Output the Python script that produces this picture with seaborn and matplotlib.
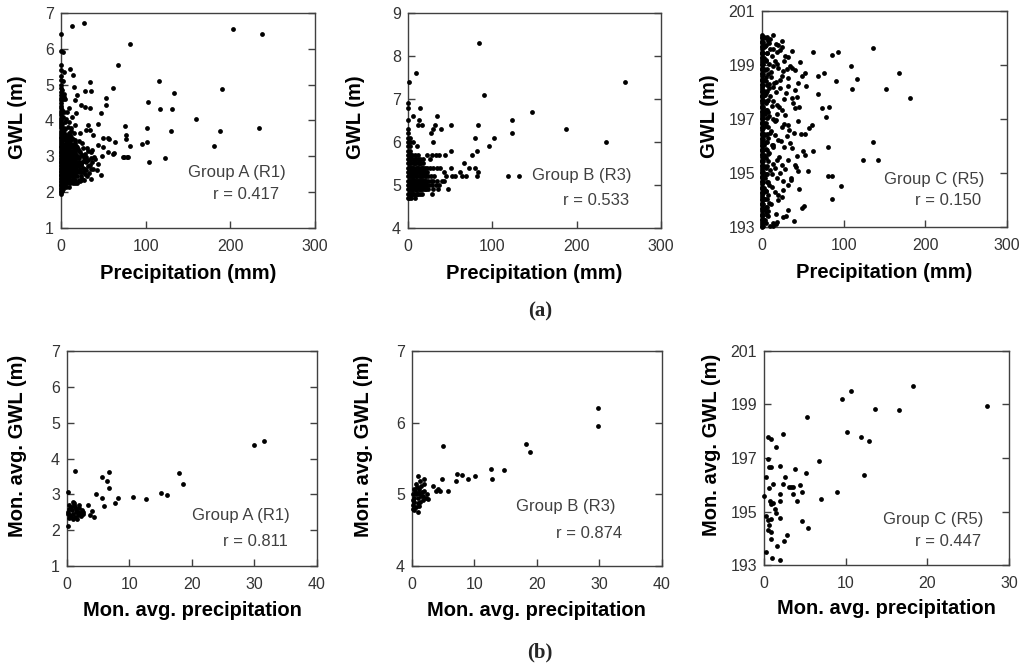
import matplotlib
matplotlib.use("Agg")
import numpy as np
import pandas as pd
import matplotlib.pyplot as plt
import seaborn as sns

# ---------------- Group A (R1), daily ----------------
# dry days (precipitation = 0)
a_dry_gwl = [1.95, 2.0, 2.04, 2.08, 2.12, 2.16, 2.2, 2.24, 2.28, 2.32,
             2.36, 2.4, 2.44, 2.48, 2.52, 2.56, 2.6, 2.64, 2.68, 2.72,
             2.76, 2.8, 2.84, 2.88, 2.92, 2.96, 3.0, 3.04, 3.08, 3.12,
             3.16, 3.2, 3.25, 3.3, 3.35, 3.4, 3.45, 3.5, 3.55, 3.6,
             3.66, 3.72, 3.78, 3.84, 3.9, 3.96, 4.02, 4.08, 4.14, 4.2,
             4.27, 4.34, 4.41, 4.48, 4.56, 4.64, 4.72, 4.8, 4.9, 5.0,
             5.12, 5.25, 5.4, 5.55, 5.93, 6.42]
a_wet_precip = [1.5, 2.5, 1.2, 3.0, 2.0, 1.0, 3.2, 1.8, 2.6, 1.3,
                3.4, 2.2, 1.1, 2.8, 1.6, 3.1, 2.0, 1.4, 2.7, 1.2,
                2.3, 1.5, 2.0, 3.0, 2.6,
                5, 8, 12, 16, 22, 6, 4, 7, 10, 14,
                19, 25, 35.4, 23.2, 5, 9, 13, 17, 21, 28,
                46.9, 33, 4, 7, 11, 15, 19, 24, 30, 38.2,
                42.9, 6, 9, 12, 16, 20, 26, 32, 4, 8,
                11, 14, 18, 23, 29, 43.3, 36, 5, 9, 13,
                17, 21, 27, 32.3, 40, 6, 10, 14, 19, 24,
                30, 39.4, 48, 4, 8, 12, 16, 22, 28, 35,
                6, 10, 15, 20, 26, 36.2, 30.3, 5, 9, 13,
                18, 24.4, 43.3, 50, 7, 11, 16, 21, 4, 9,
                14, 50, 55.9, 6, 10.6, 22.4, 37.4, 12, 29.1, 34.3,
                5, 16.5, 32.3, 44.1, 8, 13.4, 17.7, 46.9, 6, 23.6,
                28.3, 34.3, 3.9, 10, 16.5, 18.9, 53, 53.1, 15.7, 28.3,
                35, 33.9, 14.6, 11, 13.4, 26.8,
                81.5, 203.5, 237.4, 67.3, 115.7, 61.8, 190.6, 133.9, 102.4, 116.9,
                131.1, 159.4, 101.2, 75.2, 130.3, 187.8, 233.5, 76.8, 76.8, 95.3,
                101.6, 81.5, 181.1, 74.8, 79.5, 122.4, 103.9, 56.3, 62.2, 63.8,
                55.1, 61.8, 73.6, 78.3]
a_wet_gwl = [2.02, 2.1, 2.2, 2.25, 2.35, 2.45, 2.5, 2.6, 2.7, 2.8,
             2.9, 3.0, 3.1, 3.2, 3.35, 3.5, 3.7, 3.9, 4.1, 4.3,
             4.6, 4.85, 5.1, 5.35, 5.9,
             2.22, 2.28, 2.3, 2.26, 2.3, 2.33, 2.4, 2.38, 2.42, 2.36,
             2.44, 2.37, 2.36, 2.34, 2.5, 2.48, 2.52, 2.47, 2.55, 2.5,
             2.48, 2.53, 2.6, 2.62, 2.58, 2.63, 2.6, 2.57, 2.62, 2.64,
             2.62, 2.7, 2.68, 2.72, 2.7, 2.74, 2.68, 2.72, 2.8, 2.78,
             2.82, 2.8, 2.84, 2.79, 2.83, 2.78, 2.85, 2.9, 2.88, 2.92,
             2.9, 2.94, 2.88, 2.9, 2.93, 3.0, 2.98, 3.02, 3.0, 3.04,
             2.97, 2.99, 3.02, 3.1, 3.08, 3.12, 3.1, 3.13, 3.07, 3.12,
             3.2, 3.18, 3.22, 3.2, 3.24, 3.18, 3.22, 3.3, 3.28, 3.32,
             3.3, 3.36, 3.32, 3.27, 3.4, 3.42, 3.38, 3.44, 3.5, 3.52,
             3.48, 3.5, 3.52, 3.6, 3.6, 3.64, 3.6, 3.72, 3.73, 3.73,
             3.75, 3.87, 3.87, 3.9, 3.82, 4.09, 4.2, 4.22, 4.05, 4.43,
             4.39, 4.36, 4.66, 4.35, 4.57, 4.71, 4.62, 4.44, 4.94, 4.83,
             4.83, 5.08, 5.27, 5.43, 6.64, 6.71,
             6.14, 6.56, 6.40, 5.54, 5.11, 4.92, 4.88, 4.77, 4.52, 4.32,
             4.32, 4.03, 3.80, 3.84, 3.72, 3.72, 3.80, 3.59, 3.47, 3.35,
             3.40, 3.29, 3.29, 2.98, 2.98, 2.94, 2.85, 3.48, 3.08, 3.41,
             3.13, 3.07, 2.99, 2.99]
# the dense core of the cloud (small rain, low GWL)
a_core_precip = [2.5, 5.5, 9.5,
                 3, 7, 10.5, 14.5, 19,
                 2.5, 5.5, 9, 12.5, 17, 21, 27,
                 3, 6.5, 10, 13.5, 16, 23, 31,
                 2.5, 5, 8, 11, 14, 18, 26,
                 3, 6, 9.5, 13, 17.5, 22, 28, 35,
                 2.5, 5.5, 8.5, 11.5, 15, 19, 24, 34,
                 3, 6.5, 10, 13, 16.5, 21, 25,
                 2.5, 5, 8, 11.5, 15.5, 20, 27, 35,
                 3, 6, 9.5, 13, 18, 25,
                 2.5, 5, 7.5, 11, 14, 17, 21, 32,
                 3, 7, 10.5, 13.5, 19,
                 2.5, 5.5, 8, 12, 15,
                 3, 6, 11, 17,
                 2.5, 8, 12,
                 4, 9, 15,
                 3, 12,
                 5, 9,
                 4, 7,
                 5,
                 3]
a_core_gwl = [2.15, 2.15, 2.15,
              2.25, 2.25, 2.25, 2.25, 2.25,
              2.35, 2.35, 2.35, 2.35, 2.35, 2.35, 2.35,
              2.45, 2.45, 2.45, 2.45, 2.45, 2.45, 2.45,
              2.55, 2.55, 2.55, 2.55, 2.55, 2.55, 2.55,
              2.65, 2.65, 2.65, 2.65, 2.65, 2.65, 2.65, 2.65,
              2.75, 2.75, 2.75, 2.75, 2.75, 2.75, 2.75, 2.75,
              2.85, 2.85, 2.85, 2.85, 2.85, 2.85, 2.85,
              2.95, 2.95, 2.95, 2.95, 2.95, 2.95, 2.95, 2.95,
              3.05, 3.05, 3.05, 3.05, 3.05, 3.05,
              3.15, 3.15, 3.15, 3.15, 3.15, 3.15, 3.15, 3.15,
              3.25, 3.25, 3.25, 3.25, 3.25,
              3.35, 3.35, 3.35, 3.35, 3.35,
              3.45, 3.45, 3.45, 3.45,
              3.55, 3.55, 3.55,
              3.65, 3.65, 3.65,
              3.8, 3.8,
              3.95, 3.95,
              4.25, 4.25,
              4.6,
              4.75]

# ---------------- Group B (R3), daily ----------------
b_dry_gwl = [4.7, 4.8, 4.9, 5.0, 5.1, 5.2, 5.3, 5.4, 5.5, 5.6,
             5.7, 5.8, 5.9, 6.0, 6.1, 6.2, 6.3, 6.5, 6.8, 6.9]
b_wet_precip = [1.5, 3.5, 8.3,
                1.5, 3.5, 6, 9, 12, 28.1,
                1.5, 3.5, 5.5, 8, 10, 12.5, 15, 18, 21, 24, 30, 36, 47.6,
                1.5, 3.5, 5.5, 7.5, 10, 12, 14.5, 17, 19, 22, 25, 28, 33, 37,
                1.5, 3.5, 5.5, 7.5, 9.5, 12, 14, 16.5, 19, 21.5, 24, 27, 30, 34, 39.9, 43,
                1.5, 3.5, 5.5, 7.5, 10, 12.5, 15, 18, 21, 24, 27, 31, 44.7, 51.8, 55.7,
                63.6, 68.4, 81.4, 118.9, 132,
                1.5, 3.5, 6, 8.5, 11, 14, 17, 20, 42.8, 61.7, 82.6,
                1.5, 3.5, 6, 9, 12, 15, 18, 22, 26, 30, 34, 38, 50.6, 72.7, 79.8,
                1.5, 4, 7, 10, 13, 16, 66.4,
                1.5, 4, 8, 12, 26.1,
                2, 5, 22.9, 28.9, 32.8, 36.8, 44.3, 75.9,
                2.5, 50.6, 81.4,
                2, 11.1, 96.4,
                3, 6, 30, 234.6,
                2, 79.8, 101.5,
                26.9, 123.3,
                30, 38.7, 187.9,
                12.3, 16.2, 32, 50.6, 83.4,
                13, 123.3,
                6.3, 34,
                147.4, 14.6, 90.4, 1.6, 258, 9.5, 84.4,
                # filling of the dense block
                2.5, 4.5, 7.5, 10.5, 14, 17,
                2.5, 4.5, 6.5, 9, 11, 13.5, 16, 20,
                2.5, 4.5, 6.5, 9, 11, 13.5, 16, 20,
                2.5, 4.5, 6.5, 8.5, 11, 13, 15.5, 18, 20,
                2.5, 4.5, 6.5, 9, 11, 14, 16.5, 20,
                2.5, 5, 7, 10, 12.5, 15.5, 18.5, 23,
                2.5, 4.5, 7.5, 10.5, 13.5, 16.5, 20,
                3, 5.5, 8.5, 11.5, 14.5, 18,
                3, 6, 10, 14, 18,
                1, 3.5, 8, 12]
b_wet_gwl = [4.7, 4.7, 4.7,
             4.8, 4.8, 4.8, 4.8, 4.8, 4.8,
             4.9, 4.9, 4.9, 4.9, 4.9, 4.9, 4.9, 4.9, 4.9, 4.9, 4.9, 4.9, 4.9,
             5.0, 5.0, 5.0, 5.0, 5.0, 5.0, 5.0, 5.0, 5.0, 5.0, 5.0, 5.0, 5.0, 5.0,
             5.1, 5.1, 5.1, 5.1, 5.1, 5.1, 5.1, 5.1, 5.1, 5.1, 5.1, 5.1, 5.1, 5.1, 5.1, 5.1,
             5.2, 5.2, 5.2, 5.2, 5.2, 5.2, 5.2, 5.2, 5.2, 5.2, 5.2, 5.2, 5.2, 5.2, 5.2,
             5.2, 5.2, 5.2, 5.2, 5.2,
             5.3, 5.3, 5.3, 5.3, 5.3, 5.3, 5.3, 5.3, 5.3, 5.3, 5.3,
             5.4, 5.4, 5.4, 5.4, 5.4, 5.4, 5.4, 5.4, 5.4, 5.4, 5.4, 5.4, 5.4, 5.4, 5.4,
             5.5, 5.5, 5.5, 5.5, 5.5, 5.5, 5.5,
             5.6, 5.6, 5.6, 5.6, 5.6,
             5.7, 5.7, 5.7, 5.7, 5.7, 5.7, 5.7, 5.7,
             5.8, 5.8, 5.8,
             5.9, 5.9, 5.9,
             6.0, 6.0, 6.0, 6.0,
             6.1, 6.1, 6.1,
             6.2, 6.2,
             6.3, 6.3, 6.3,
             6.4, 6.4, 6.4, 6.4, 6.4,
             6.5, 6.5,
             6.6, 6.6,
             6.7, 6.8, 7.1, 7.4, 7.4, 7.6, 8.3,
             4.8, 4.8, 4.8, 4.8, 4.8, 4.8,
             4.9, 4.9, 4.9, 4.9, 4.9, 4.9, 4.9, 4.9,
             5.0, 5.0, 5.0, 5.0, 5.0, 5.0, 5.0, 5.0,
             5.1, 5.1, 5.1, 5.1, 5.1, 5.1, 5.1, 5.1, 5.1,
             5.2, 5.2, 5.2, 5.2, 5.2, 5.2, 5.2, 5.2,
             5.3, 5.3, 5.3, 5.3, 5.3, 5.3, 5.3, 5.3,
             5.4, 5.4, 5.4, 5.4, 5.4, 5.4, 5.4,
             5.5, 5.5, 5.5, 5.5, 5.5, 5.5,
             5.6, 5.6, 5.6, 5.6, 5.6,
             5.7, 5.7, 5.7, 5.7]

# ---------------- Group C (R5), daily ----------------
c_dry_gwl = [193.0, 193.1, 193.2, 193.3, 193.4, 193.5, 193.6, 193.7, 193.8, 193.9,
             194.0, 194.1, 194.2, 194.3, 194.4, 194.5, 194.6, 194.7, 194.8, 194.9,
             195.0, 195.1, 195.2, 195.3, 195.4, 195.5, 195.6, 195.7, 195.8, 195.9,
             196.0, 196.1, 196.2, 196.3, 196.4, 196.5, 196.6, 196.7, 196.8, 196.9,
             197.0, 197.1, 197.2, 197.3, 197.4, 197.5, 197.6, 197.7, 197.8, 197.9,
             198.0, 198.1, 198.2, 198.3, 198.4, 198.5, 198.6, 198.7, 198.8, 198.9,
             199.0, 199.1, 199.2, 199.3, 199.4, 199.5, 199.6, 199.7, 199.8, 199.9,
             200.0, 200.1,
             193.05, 193.25, 193.45, 193.65, 193.85, 194.05, 194.25, 194.45, 194.65, 194.85,
             195.05, 195.25, 195.45, 195.65, 195.85, 196.05, 196.25, 196.45, 196.65, 196.85,
             197.05, 197.25, 197.45, 197.65, 197.85, 198.05, 198.25, 198.45, 198.65, 198.85,
             199.05, 199.25, 199.45, 199.65, 199.85, 200.05]
c_wet_precip = [1.5, 3.0, 1.5, 3.0, 1.5, 3.0, 1.5, 3.0, 1.5, 3.0,
                1.5, 3.0, 1.5, 3.0, 1.5, 3.0, 1.5, 3.0, 1.5, 3.0,
                1.5, 3.0, 1.5, 3.0, 1.5, 3.0, 1.5, 3.0, 1.5, 3.0,
                1.5, 3.0, 1.5, 3.0, 1.5, 3.0,
                5, 8, 4, 10, 6, 12, 5, 9, 14, 4,
                7, 11, 5, 9, 13, 6, 4, 10, 8, 5,
                12, 6, 4, 9, 14, 5, 7, 11, 4, 8,
                6, 12, 5, 9, 4, 7, 13, 5, 10, 6,
                4, 8, 12, 5, 7, 4, 9, 6, 5, 8,
                4, 10, 18, 20, 17, 19, 16, 21, 18, 20,
                17,
                13.9, 8.6, 16.7, 20, 24.1, 24.9, 22, 36.3, 62.9, 86.1,
                93.5, 135.9, 32.2, 15.9, 27.3, 34.3, 36.3, 40.4, 30.2, 26.1,
                48.6, 52.7, 68.2, 75.9, 90.6, 108.6, 116, 109.8, 167.3, 151.8,
                180.8, 32.2, 22, 16.7, 53.5, 40.4, 31.4, 22, 69, 42.4,
                37.1, 27.3, 45.7, 40.4, 73, 82, 78.4, 18, 24.9, 28.2,
                43.7, 31.4, 24.1, 15.9, 60.8, 57.9, 39.6, 47.8, 53.1, 30.2,
                20, 34.3, 135.9, 13.9, 27.3, 36.3, 50.6, 52.7, 62.9, 80.4,
                42.4, 31.4, 24.1, 41.6, 43.7, 55.9, 123.7, 141.6, 15.9, 22,
                35.5, 32.2, 80.4, 86.1, 96.7, 45.7, 26.1, 20, 31.4, 48.6,
                51.8, 86.1, 26.1, 39.6, 13.9, 16.7,
                4.5, 6.5, 4.5, 6.5, 4.5, 6.5, 4.5, 6.5, 4.5, 6.5,
                4.5, 6.5, 4.5, 6.5, 4.5, 6.5, 4.5, 6.5, 4.5, 6.5,
                4.5, 6.5, 4.5, 6.5,
                10, 14, 28, 19, 11, 25, 15, 9, 29, 13,
                21, 8, 17, 33, 10, 23, 14, 8, 19, 28,
                12, 35, 9, 16, 24, 11, 30, 7, 18, 13,
                40, 38, 44, 47, 27, 26]
c_wet_gwl = [193.05, 193.25, 193.45, 193.65, 193.85, 194.05, 194.25, 194.45, 194.65, 194.85,
             195.05, 195.25, 195.45, 195.65, 195.85, 196.05, 196.25, 196.45, 196.65, 196.85,
             197.05, 197.25, 197.45, 197.65, 197.85, 198.05, 198.25, 198.45, 198.65, 198.85,
             199.05, 199.25, 199.45, 199.65, 199.85, 200.05,
             200.0, 199.9, 199.7, 199.6, 199.45, 199.35, 199.2, 199.05, 198.95, 198.8,
             198.65, 198.55, 198.4, 198.3, 198.2, 198.05, 197.9, 197.85, 197.7, 197.6,
             197.5, 197.35, 197.2, 197.1, 197.0, 196.85, 196.7, 196.55, 196.4, 196.3,
             196.15, 196.05, 195.9, 195.75, 195.6, 195.45, 195.35, 195.2, 195.1, 194.95,
             194.8, 194.65, 194.5, 194.35, 194.2, 194.05, 193.9, 193.75, 193.55, 193.4,
             193.25, 193.05, 199.5, 198.9, 198.0, 197.2, 196.4, 195.6, 194.8, 194.2,
             193.5,
             200.12, 199.81, 199.78, 199.73, 199.65, 199.88, 199.54, 199.51, 199.47, 199.38,
             199.47, 199.63, 199.28, 199.14, 199.16, 198.95, 198.89, 198.83, 198.85, 198.77,
             198.58, 198.70, 198.58, 198.70, 198.42, 198.95, 198.49, 198.11, 198.72, 198.12,
             197.78, 198.52, 198.46, 198.37, 198.21, 198.09, 198.21, 198.15, 197.93, 197.80,
             197.78, 197.74, 197.43, 197.41, 197.41, 197.43, 197.07, 197.53, 197.35, 197.16,
             196.91, 196.79, 196.69, 196.91, 196.79, 196.67, 196.48, 196.44, 196.45, 196.36,
             196.23, 196.11, 196.15, 196.05, 195.95, 195.93, 195.80, 195.68, 195.83, 195.95,
             195.62, 195.49, 195.31, 195.21, 195.09, 195.07, 195.47, 195.47, 195.19, 195.0,
             194.81, 194.57, 194.88, 194.88, 194.51, 194.41, 194.38, 194.01, 193.64, 193.70,
             193.77, 194.05, 193.36, 193.23, 193.15, 193.11,
             193.15, 193.45, 193.75, 194.05, 194.35, 194.65, 194.95, 195.25, 195.55, 195.85,
             196.15, 196.45, 196.75, 197.05, 197.35, 197.65, 197.95, 198.25, 198.55, 198.85,
             199.15, 199.45, 199.75, 200.05,
             199.95, 199.6, 199.35, 199.05, 198.75, 198.6, 198.35, 198.15, 197.95, 197.65,
             197.45, 197.25, 196.95, 196.6, 196.5, 196.2, 195.95, 195.7, 195.5, 195.15,
             194.95, 194.75, 194.55, 194.3, 194.1, 193.85, 193.4, 193.6, 193.2, 193.05,
             195.3, 197.6, 198.35, 199.1, 196.8, 194.7]

# ---------------- monthly averages ----------------
a_mon_precip = [31.5, 29.9, 18.0, 18.6, 15.1, 16.0, 12.6, 10.6, 8.2, 7.7,
                1.3, 0.2, 6.8, 5.55, 6.35, 6.8, 4.6, 5.55, 5.9, 3.4,
                3.95, 3.7, 4.3, 0.1, 0.3, 0.5, 0.2, 0.8, 1.0, 1.3,
                1.5, 0.6, 1.1, 1.8, 2.1, 2.4, 1.6, 0.9, 2.0, 0.4,
                1.2, 1.9, 2.5, 0.7, 1.4, 2.2, 0.1, 0.3, 1.7, 0.9,
                1.3, 2.6]
a_mon_gwl = [4.48, 4.39, 3.60, 3.30, 3.05, 2.99, 2.88, 2.93, 2.89, 2.77,
             3.65, 3.07, 3.61, 3.49, 3.37, 3.17, 3.01, 2.89, 2.68, 2.70,
             2.54, 2.42, 2.36, 2.13, 2.35, 2.42, 2.5, 2.55, 2.45, 2.38,
             2.6, 2.65, 2.7, 2.52, 2.48, 2.55, 2.32, 2.3, 2.62, 2.6,
             2.75, 2.7, 2.45, 2.38, 2.5, 2.4, 2.45, 2.7, 2.42, 2.78,
             2.65, 2.52]

b_mon_precip = [29.7, 29.7, 18.2, 18.9, 4.9, 12.7, 14.8, 12.8, 10.1, 9.0,
                7.15, 8.05, 7.0, 4.85, 1.0, 2.0, 3.4, 4.1, 4.5, 3.8,
                5.8, 2.5, 1.0, 0.1, 0.2, 0.4, 0.3, 0.6, 0.5, 0.8,
                0.2, 1.0, 1.2, 0.9, 1.4, 1.1, 1.6, 1.3, 0.7, 1.8,
                2.0, 1.5, 0.4, 1.9, 2.2, 0.3, 1.1, 0.6, 1.7, 2.4,
                0.9, 1.3, 0.1]
b_mon_gwl = [6.21, 5.95, 5.70, 5.59, 5.68, 5.36, 5.34, 5.22, 5.26, 5.22,
             5.28, 5.27, 5.19, 5.22, 5.25, 5.21, 5.12, 5.08, 5.05, 5.04,
             5.05, 4.94, 4.76, 4.8, 4.85, 4.9, 4.95, 5.0, 5.05, 5.1,
             5.0, 4.95, 5.02, 4.88, 4.97, 5.08, 5.03, 4.9, 4.83, 4.98,
             5.05, 5.12, 5.08, 5.15, 4.95, 4.78, 4.84, 5.15, 4.92, 5.0,
             5.02, 5.18, 4.92]

c_mon_precip = [18.2, 10.7, 9.5, 27.3, 13.6, 16.5, 5.3, 10.2, 11.9, 12.9,
                2.3, 0.5, 0.9, 1.5, 6.7, 0.5, 0.6, 0.9, 1.9, 3.8,
                5.2, 2.6, 12.2, 0.3, 1.1, 2.3, 3.3, 3.5, 4.4, 0.6,
                8.9, 4.7, 3.6, 2.0, 0.0, 4.0, 7.0, 2.0, 0.7, 1.1,
                0.8, 1.3, 1.5, 0.3, 0.9, 0.5, 1.9, 4.7, 5.4, 0.5,
                0.9, 0.6, 2.8, 0.9, 2.4, 1.6, 0.2, 1.0, 2.0, 3.0]
c_mon_gwl = [199.70, 199.49, 199.22, 198.96, 198.83, 198.79, 198.53, 197.97, 197.77, 197.62,
             197.88, 197.80, 197.70, 197.40, 196.90, 196.98, 196.68, 196.65, 196.70, 196.59,
             196.44, 196.29, 196.36, 196.28, 196.03, 196.03, 195.93, 195.93, 195.98, 195.87,
             195.72, 195.72, 195.65, 195.65, 195.58, 195.38, 195.45, 195.40, 195.41, 195.33,
             195.28, 195.09, 194.93, 194.85, 194.72, 194.69, 194.75, 194.64, 194.40, 194.31,
             194.22, 194.50, 194.12, 193.96, 193.90, 193.72, 193.47, 193.27, 193.19, 195.93]

groups = ["Group A (R1)", "Group B (R3)", "Group C (R5)"]
r_daily = ["r = 0.417", "r = 0.533", "r = 0.150"]
r_monthly = ["r = 0.811", "r = 0.874", "r = 0.447"]

sns.set_theme(style="white")
plt.rcParams["font.family"] = ["Liberation Sans", "DejaVu Sans"]

fig = plt.figure(figsize=(10.24, 6.72), dpi=100)


def daily_frame(dry_gwl, wet_precip, wet_gwl, core_precip=(), core_gwl=()):
    dry = pd.DataFrame({"precip": [0.0] * len(dry_gwl), "gwl": dry_gwl})
    wet = pd.DataFrame({"precip": wet_precip, "gwl": wet_gwl})
    core = pd.DataFrame({"precip": list(core_precip), "gwl": list(core_gwl)})
    return pd.concat([dry, wet, core], ignore_index=True)


def draw_panel(rect, df, xmax, xstep, ylim, ystep, xlabel, ylabel,
               group, r_text, gpos, rpos, ylab_pos, xlab_y):
    ax = fig.add_axes(rect)
    sns.scatterplot(data=df, x="precip", y="gwl", color="black", s=12,
                    linewidth=0, ax=ax, clip_on=False, zorder=3)
    ax.set_xlim(0, xmax)
    ax.set_ylim(*ylim)
    ax.set_xticks(np.arange(0, xmax + 1, xstep))
    ax.set_yticks(np.arange(ylim[0], ylim[1] + 0.5, ystep))
    for s in ax.spines.values():
        s.set_color("#404040")
        s.set_linewidth(1.0)
    ax.tick_params(axis="y", direction="in", left=True, right=True, length=5,
                   width=1, color="#404040", labelsize=11.5, labelcolor="#333333", pad=5)
    ax.tick_params(axis="x", direction="in", bottom=True, top=False, length=5,
                   width=1, color="#404040", labelsize=11.5, labelcolor="#333333", pad=8)
    ax.set_xlabel(xlabel, fontsize=14.5, fontweight="bold", color="black", va="center")
    ax.set_ylabel(ylabel, fontsize=14.5, fontweight="bold", color="black", va="center")
    ax.xaxis.set_label_coords(0.5, xlab_y)
    ax.yaxis.set_label_coords(*ylab_pos)
    ax.text(gpos[0], gpos[1], group, transform=ax.transAxes, fontsize=12,
            color="#404040", va="center", ha="left")
    ax.text(rpos[0], rpos[1], r_text, transform=ax.transAxes, fontsize=12,
            color="#404040", va="center", ha="left")
    return ax


df_a = daily_frame(a_dry_gwl, a_wet_precip, a_wet_gwl, a_core_precip, a_core_gwl)
df_b = daily_frame(b_dry_gwl, b_wet_precip, b_wet_gwl)
df_c = daily_frame(c_dry_gwl, c_wet_precip, c_wet_gwl)

draw_panel([0.0596, 0.6607, 0.248, 0.32], df_a, 300, 100, (1, 7), 1,
           "Precipitation (mm)", "GWL (m)", groups[0], r_daily[0],
           (0.50, 0.26), (0.60, 0.158), (-0.173, 0.514), -0.21)
draw_panel([0.3984, 0.6607, 0.247, 0.32], df_b, 300, 100, (4, 9), 1,
           "Precipitation (mm)", "GWL (m)", groups[1], r_daily[1],
           (0.49, 0.242), (0.613, 0.13), (-0.209, 0.514), -0.21)
draw_panel([0.7441, 0.6622, 0.2393, 0.3214], df_c, 300, 100, (193, 201), 2,
           "Precipitation (mm)", "GWL (m)", groups[2], r_daily[2],
           (0.498, 0.222), (0.624, 0.125), (-0.216, 0.514), -0.21)

mon_a = pd.DataFrame({"precip": a_mon_precip, "gwl": a_mon_gwl})
mon_b = pd.DataFrame({"precip": b_mon_precip, "gwl": b_mon_gwl})
mon_c = pd.DataFrame({"precip": c_mon_precip, "gwl": c_mon_gwl})

draw_panel([0.0654, 0.1577, 0.2441, 0.32], mon_a, 40, 10, (1, 7), 1,
           "Mon. avg. precipitation", "Mon. avg. GWL (m)", groups[0], r_monthly[0],
           (0.50, 0.237), (0.624, 0.112), (-0.196, 0.56), -0.205)
draw_panel([0.4023, 0.1577, 0.2441, 0.32], mon_b, 40, 10, (4, 7), 1,
           "Mon. avg. precipitation", "Mon. avg. GWL (m)", groups[1], r_monthly[1],
           (0.416, 0.279), (0.576, 0.153), (-0.192, 0.56), -0.205)
draw_panel([0.7461, 0.1592, 0.2393, 0.3185], mon_c, 30, 10, (193, 201), 2,
           "Mon. avg. precipitation", "Mon. avg. GWL (m)", groups[2], r_monthly[2],
           (0.486, 0.215), (0.616, 0.112), (-0.216, 0.56), -0.205)

fig.text(540 / 1024, 1 - 311 / 672, "(a)", family="Liberation Serif",
         fontsize=15, fontweight="bold", ha="center", va="center")
fig.text(540 / 1024, 1 - 652 / 672, "(b)", family="Liberation Serif",
         fontsize=15, fontweight="bold", ha="center", va="center")

fig.savefig("out.png", dpi=100, facecolor="white")
